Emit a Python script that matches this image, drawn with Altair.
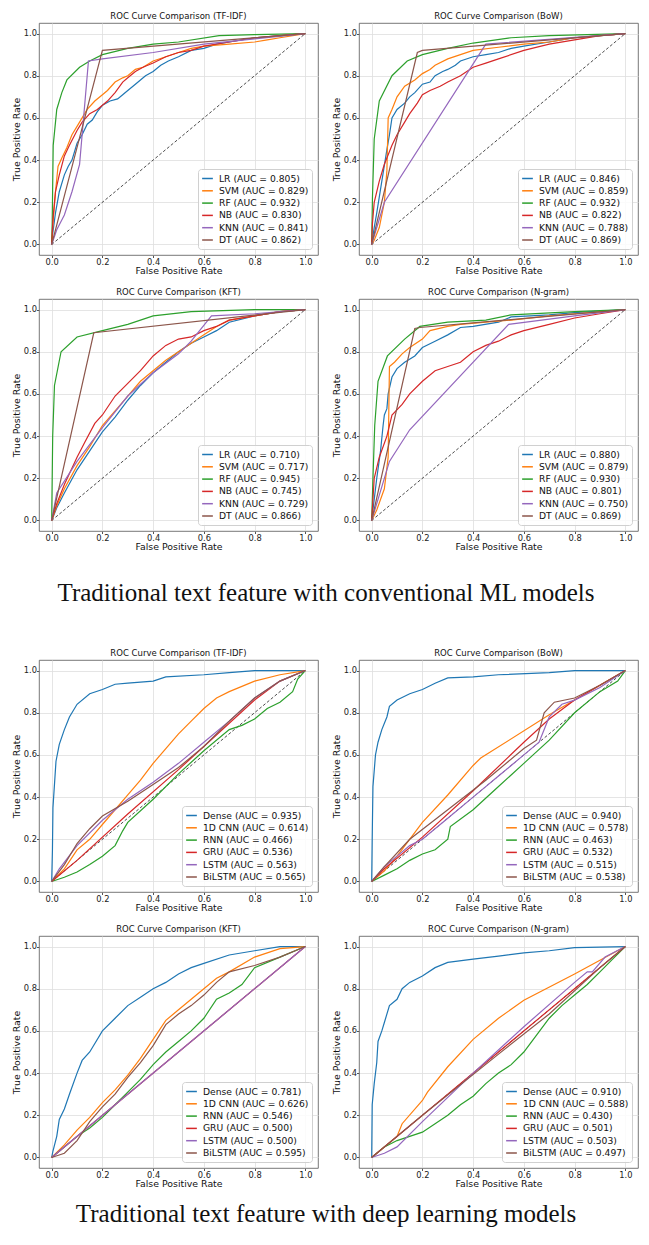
import altair as alt
import pandas as pd

FEATURES = ["TF-IDF", "BoW", "KFT", "N-gram"]
ML_MODELS = ["LR", "SVM", "RF", "NB", "KNN", "DT"]
DL_MODELS = ["Dense", "1D CNN", "RNN", "GRU", "LSTM", "BiLSTM"]
COLORS = ["#1f77b4", "#ff7f0e", "#2ca02c", "#d62728", "#9467bd", "#8c564b"]
TICKS = [0.0, 0.2, 0.4, 0.6, 0.8, 1.0]
CAPTION_ML = "Traditional text feature with conventional ML models"
CAPTION_DL = "Traditional text feature with deep learning models"

AUC_ML_TFIDF = [0.805, 0.829, 0.932, 0.830, 0.841, 0.862]
AUC_ML_BOW = [0.846, 0.859, 0.932, 0.822, 0.788, 0.869]
AUC_ML_KFT = [0.710, 0.717, 0.945, 0.745, 0.729, 0.866]
AUC_ML_NGRAM = [0.880, 0.879, 0.930, 0.801, 0.750, 0.869]
AUC_DL_TFIDF = [0.935, 0.614, 0.466, 0.536, 0.563, 0.565]
AUC_DL_BOW = [0.940, 0.578, 0.463, 0.532, 0.515, 0.538]
AUC_DL_KFT = [0.781, 0.626, 0.546, 0.500, 0.500, 0.595]
AUC_DL_NGRAM = [0.910, 0.588, 0.430, 0.501, 0.503, 0.497]

# ---- ROC curves (fpr, tpr) ----
ML_TFIDF_LR = [(0,0),(0.005,0.06),(0.015,0.15),(0.03,0.25),(0.05,0.33),(0.065,0.37),(0.08,0.4),(0.1,0.48),(0.12,0.52),(0.14,0.57),(0.16,0.59),(0.18,0.63),(0.2,0.66),(0.23,0.68),(0.26,0.69),(0.28,0.71),(0.3,0.73),(0.33,0.76),(0.35,0.78),(0.37,0.8),(0.4,0.82),(0.43,0.85),(0.46,0.87),(0.5,0.89),(0.55,0.92),(0.6,0.93),(0.65,0.95),(0.7,0.96),(0.8,0.98),(0.9,0.99),(1,1)]
ML_TFIDF_SVM = [(0,0),(0.005,0.1),(0.015,0.25),(0.025,0.37),(0.04,0.41),(0.06,0.46),(0.08,0.52),(0.1,0.56),(0.12,0.6),(0.14,0.64),(0.17,0.68),(0.2,0.71),(0.22,0.73),(0.25,0.77),(0.28,0.79),(0.3,0.8),(0.33,0.83),(0.36,0.84),(0.4,0.87),(0.45,0.89),(0.5,0.91),(0.55,0.93),(0.6,0.94),(0.7,0.95),(0.8,0.96),(0.85,0.97),(0.9,0.98),(1,1)]
ML_TFIDF_RF = [(0,0),(0.002,0.1),(0.006,0.47),(0.02,0.64),(0.04,0.72),(0.06,0.78),(0.11,0.84),(0.15,0.87),(0.2,0.9),(0.3,0.93),(0.4,0.95),(0.5,0.96),(0.66,0.99),(0.8,0.995),(1,1)]
ML_TFIDF_NB = [(0,0),(0.005,0.12),(0.015,0.25),(0.03,0.33),(0.05,0.42),(0.07,0.47),(0.1,0.54),(0.12,0.58),(0.15,0.62),(0.18,0.64),(0.2,0.66),(0.22,0.68),(0.25,0.72),(0.28,0.77),(0.3,0.79),(0.33,0.82),(0.36,0.84),(0.4,0.86),(0.45,0.89),(0.5,0.91),(0.55,0.92),(0.6,0.94),(0.7,0.96),(0.8,0.98),(0.9,0.99),(1,1)]
ML_TFIDF_KNN = [(0,0),(0.02,0.07),(0.05,0.14),(0.08,0.25),(0.11,0.38),(0.145,0.87),(0.2,0.88),(0.4,0.91),(0.6,0.95),(0.8,0.975),(1,1)]
ML_TFIDF_DT = [(0,0),(0.2,0.92),(1,1)]

ML_BOW_LR = [(0,0),(0.01,0.08),(0.02,0.15),(0.04,0.3),(0.06,0.45),(0.07,0.52),(0.08,0.6),(0.1,0.64),(0.13,0.67),(0.15,0.7),(0.17,0.72),(0.2,0.76),(0.23,0.77),(0.25,0.8),(0.28,0.82),(0.3,0.83),(0.33,0.85),(0.35,0.87),(0.4,0.89),(0.45,0.9),(0.5,0.91),(0.55,0.93),(0.6,0.94),(0.7,0.96),(0.8,0.98),(0.9,0.99),(1,1)]
ML_BOW_SVM = [(0,0),(0.01,0.02),(0.03,0.08),(0.05,0.2),(0.06,0.35),(0.065,0.6),(0.08,0.64),(0.1,0.7),(0.13,0.75),(0.17,0.78),(0.2,0.81),(0.23,0.83),(0.25,0.85),(0.3,0.88),(0.35,0.9),(0.4,0.92),(0.5,0.935),(0.6,0.95),(0.7,0.96),(0.8,0.98),(0.9,0.99),(1,1)]
ML_BOW_RF = [(0,0),(0.003,0.22),(0.01,0.5),(0.03,0.68),(0.08,0.8),(0.14,0.87),(0.2,0.9),(0.3,0.93),(0.4,0.955),(0.55,0.98),(0.7,0.99),(0.85,0.995),(1,1)]
ML_BOW_NB = [(0,0),(0.003,0.1),(0.01,0.2),(0.03,0.3),(0.05,0.38),(0.08,0.47),(0.1,0.52),(0.13,0.58),(0.15,0.62),(0.18,0.67),(0.2,0.71),(0.23,0.73),(0.27,0.75),(0.3,0.77),(0.35,0.8),(0.4,0.84),(0.45,0.86),(0.5,0.88),(0.6,0.92),(0.7,0.95),(0.8,0.97),(0.9,0.99),(1,1)]
ML_BOW_KNN = [(0,0),(0.05,0.2),(0.45,0.95),(1,1)]
ML_BOW_DT = [(0,0),(0.18,0.91),(0.2,0.92),(1,1)]

ML_KFT_LR = [(0,0),(0.02,0.06),(0.05,0.13),(0.1,0.24),(0.15,0.33),(0.2,0.42),(0.25,0.49),(0.3,0.57),(0.35,0.64),(0.4,0.7),(0.45,0.75),(0.5,0.8),(0.55,0.84),(0.6,0.87),(0.65,0.9),(0.7,0.94),(0.8,0.97),(0.9,0.99),(1,1)]
ML_KFT_SVM = [(0,0),(0.02,0.07),(0.05,0.15),(0.1,0.26),(0.15,0.35),(0.2,0.45),(0.25,0.52),(0.3,0.59),(0.35,0.66),(0.4,0.71),(0.45,0.76),(0.5,0.8),(0.55,0.84),(0.6,0.88),(0.65,0.92),(0.7,0.95),(0.8,0.97),(0.9,0.99),(1,1)]
ML_KFT_RF = [(0,0),(0.004,0.4),(0.011,0.64),(0.037,0.8),(0.1,0.87),(0.2,0.9),(0.3,0.93),(0.4,0.97),(0.55,0.99),(0.8,1.0),(1,1)]
ML_KFT_NB = [(0,0),(0.02,0.08),(0.05,0.17),(0.1,0.3),(0.13,0.37),(0.17,0.46),(0.2,0.5),(0.25,0.59),(0.3,0.65),(0.35,0.71),(0.4,0.78),(0.45,0.83),(0.5,0.86),(0.55,0.87),(0.6,0.9),(0.65,0.92),(0.7,0.95),(0.8,0.97),(0.9,0.99),(1,1)]
ML_KFT_KNN = [(0,0),(0.02,0.13),(0.1,0.28),(0.2,0.44),(0.3,0.59),(0.4,0.7),(0.5,0.79),(0.55,0.85),(0.63,0.97),(0.8,0.98),(1,1)]
ML_KFT_DT = [(0,0),(0.166,0.89),(1,1)]

ML_NGRAM_LR = [(0,0),(0.01,0.1),(0.02,0.2),(0.035,0.33),(0.045,0.45),(0.05,0.5),(0.06,0.53),(0.065,0.6),(0.08,0.68),(0.1,0.72),(0.13,0.75),(0.17,0.78),(0.2,0.82),(0.25,0.85),(0.3,0.88),(0.35,0.915),(0.4,0.92),(0.5,0.94),(0.55,0.965),(0.7,0.975),(0.8,0.985),(1,1)]
ML_NGRAM_SVM = [(0,0),(0.02,0.05),(0.05,0.15),(0.065,0.3),(0.07,0.73),(0.09,0.75),(0.12,0.79),(0.15,0.82),(0.2,0.86),(0.23,0.9),(0.3,0.92),(0.35,0.93),(0.45,0.94),(0.55,0.95),(0.7,0.97),(0.8,0.98),(1,1)]
ML_NGRAM_RF = [(0,0),(0.005,0.2),(0.012,0.45),(0.025,0.66),(0.062,0.78),(0.13,0.86),(0.19,0.92),(0.3,0.94),(0.45,0.95),(0.55,0.975),(0.8,0.99),(1,1)]
ML_NGRAM_NB = [(0,0),(0.005,0.1),(0.01,0.2),(0.03,0.3),(0.06,0.4),(0.08,0.5),(0.12,0.55),(0.15,0.6),(0.2,0.66),(0.25,0.71),(0.3,0.73),(0.35,0.75),(0.4,0.8),(0.45,0.83),(0.5,0.85),(0.55,0.88),(0.6,0.9),(0.7,0.93),(0.8,0.96),(0.9,0.98),(1,1)]
ML_NGRAM_KNN = [(0,0),(0.07,0.28),(0.15,0.43),(0.54,0.93),(0.8,0.97),(1,1)]
ML_NGRAM_DT = [(0,0),(0.17,0.91),(0.19,0.915),(1,1)]

DL_TFIDF_DENSE = [(0,0),(0.003,0.15),(0.005,0.35),(0.017,0.57),(0.03,0.65),(0.05,0.72),(0.07,0.78),(0.1,0.84),(0.15,0.89),(0.2,0.91),(0.25,0.935),(0.3,0.94),(0.4,0.95),(0.45,0.97),(0.6,0.98),(0.7,0.99),(0.8,1.0),(1,1)]
DL_TFIDF_CNN = [(0,0),(0.05,0.06),(0.1,0.15),(0.15,0.2),(0.2,0.27),(0.25,0.34),(0.3,0.41),(0.35,0.48),(0.4,0.56),(0.45,0.63),(0.5,0.7),(0.55,0.76),(0.6,0.82),(0.65,0.87),(0.7,0.9),(0.8,0.95),(0.9,0.98),(1,1)]
DL_TFIDF_RNN = [(0,0),(0.05,0.02),(0.1,0.045),(0.15,0.08),(0.2,0.12),(0.25,0.17),(0.28,0.24),(0.3,0.28),(0.4,0.39),(0.5,0.51),(0.6,0.62),(0.7,0.72),(0.75,0.74),(0.8,0.77),(0.85,0.82),(0.9,0.85),(0.95,0.9),(0.97,0.96),(1,1)]
DL_TFIDF_GRU = [(0,0),(0.02,0.02),(0.1,0.1),(0.3,0.32),(0.5,0.53),(0.7,0.75),(0.8,0.86),(0.9,0.95),(1,1)]
DL_TFIDF_LSTM = [(0,0),(0.03,0.06),(0.1,0.17),(0.2,0.29),(0.3,0.39),(0.4,0.47),(0.5,0.56),(0.6,0.66),(0.7,0.76),(0.8,0.87),(0.9,0.95),(1,1)]
DL_TFIDF_BILSTM = [(0,0),(0.05,0.08),(0.1,0.18),(0.15,0.25),(0.2,0.31),(0.3,0.38),(0.4,0.46),(0.5,0.54),(0.6,0.64),(0.7,0.76),(0.8,0.87),(0.9,0.95),(1,1)]

DL_BOW_DENSE = [(0,0),(0.002,0.2),(0.005,0.45),(0.015,0.6),(0.025,0.66),(0.04,0.72),(0.06,0.78),(0.07,0.83),(0.1,0.86),(0.15,0.89),(0.2,0.91),(0.25,0.94),(0.3,0.965),(0.4,0.97),(0.5,0.98),(0.7,0.99),(0.8,1.0),(1,1)]
DL_BOW_CNN = [(0,0),(0.05,0.05),(0.1,0.12),(0.2,0.28),(0.3,0.41),(0.4,0.55),(0.43,0.585),(0.7,0.79),(0.8,0.86),(0.9,0.93),(1,1)]
DL_BOW_RNN = [(0,0),(0.05,0.03),(0.1,0.06),(0.15,0.1),(0.2,0.13),(0.25,0.15),(0.3,0.2),(0.31,0.26),(0.4,0.34),(0.5,0.45),(0.6,0.56),(0.7,0.67),(0.8,0.8),(0.9,0.9),(0.97,0.95),(1,1)]
DL_BOW_GRU = [(0,0),(0.05,0.06),(0.2,0.21),(0.4,0.43),(0.6,0.66),(0.7,0.77),(0.8,0.86),(0.9,0.93),(1,1)]
DL_BOW_LSTM = [(0,0),(0.05,0.07),(0.1,0.12),(0.15,0.17),(0.2,0.2),(0.3,0.3),(0.4,0.4),(0.5,0.5),(0.6,0.6),(0.66,0.66),(0.7,0.78),(0.75,0.84),(0.8,0.86),(0.9,0.92),(1,1)]
DL_BOW_BILSTM = [(0,0),(0.05,0.07),(0.15,0.2),(0.3,0.34),(0.45,0.48),(0.6,0.63),(0.65,0.67),(0.68,0.8),(0.72,0.85),(0.8,0.87),(0.9,0.93),(1,1)]

DL_KFT_DENSE = [(0,0),(0.005,0.03),(0.02,0.1),(0.03,0.18),(0.05,0.23),(0.07,0.3),(0.1,0.4),(0.12,0.46),(0.15,0.5),(0.2,0.6),(0.25,0.66),(0.3,0.72),(0.35,0.76),(0.4,0.8),(0.45,0.83),(0.5,0.87),(0.55,0.9),(0.6,0.92),(0.7,0.96),(0.8,0.98),(0.9,1.0),(1,1)]
DL_KFT_CNN = [(0,0),(0.05,0.06),(0.1,0.13),(0.15,0.19),(0.2,0.26),(0.25,0.32),(0.3,0.39),(0.35,0.47),(0.4,0.56),(0.45,0.65),(0.5,0.7),(0.55,0.75),(0.6,0.8),(0.65,0.85),(0.7,0.88),(0.8,0.95),(0.9,0.99),(1,1)]
DL_KFT_RNN = [(0,0),(0.05,0.05),(0.1,0.1),(0.15,0.14),(0.2,0.19),(0.25,0.25),(0.3,0.31),(0.35,0.37),(0.4,0.44),(0.45,0.5),(0.5,0.55),(0.55,0.6),(0.6,0.66),(0.65,0.75),(0.7,0.78),(0.75,0.82),(0.8,0.9),(0.9,0.95),(1,1)]
DL_KFT_GRU = [(0,0),(1,1)]
DL_KFT_LSTM = [(0,0),(1,1)]
DL_KFT_BILSTM = [(0,0),(0.05,0.02),(0.1,0.08),(0.15,0.17),(0.2,0.24),(0.25,0.3),(0.3,0.38),(0.35,0.45),(0.4,0.53),(0.45,0.63),(0.5,0.68),(0.55,0.72),(0.6,0.77),(0.65,0.83),(0.7,0.88),(0.8,0.91),(0.9,0.95),(1,1)]

DL_NGRAM_DENSE = [(0,0),(0.002,0.25),(0.01,0.35),(0.02,0.45),(0.025,0.55),(0.04,0.6),(0.05,0.64),(0.07,0.72),(0.1,0.75),(0.12,0.8),(0.15,0.83),(0.2,0.86),(0.25,0.9),(0.3,0.925),(0.4,0.94),(0.5,0.955),(0.6,0.97),(0.7,0.98),(0.8,0.995),(1,1)]
DL_NGRAM_CNN = [(0,0),(0.05,0.05),(0.1,0.1),(0.12,0.16),(0.2,0.27),(0.22,0.31),(0.3,0.43),(0.4,0.56),(0.5,0.66),(0.6,0.745),(0.8,0.87),(1,1)]
DL_NGRAM_RNN = [(0,0),(0.05,0.05),(0.1,0.08),(0.15,0.1),(0.2,0.12),(0.25,0.16),(0.3,0.2),(0.35,0.25),(0.4,0.29),(0.45,0.35),(0.5,0.4),(0.55,0.44),(0.6,0.5),(0.65,0.58),(0.7,0.66),(0.75,0.72),(0.8,0.77),(0.85,0.82),(0.9,0.88),(0.95,0.94),(1,1)]
DL_NGRAM_GRU = [(0,0),(0.25,0.25),(0.5,0.5),(0.75,0.75),(1,1)]
DL_NGRAM_LSTM = [(0,0),(0.05,0.02),(0.1,0.05),(0.2,0.17),(0.4,0.4),(0.6,0.62),(0.8,0.83),(0.85,0.88),(0.87,0.88),(0.92,0.95),(1,1)]
DL_NGRAM_BILSTM = [(0,0),(0.2,0.2),(0.5,0.49),(0.7,0.68),(0.9,0.9),(1,1)]

DIAG = [(0, 0), (1, 1)]

PANELS_ML = [
    ("TF-IDF", AUC_ML_TFIDF, [ML_TFIDF_LR, ML_TFIDF_SVM, ML_TFIDF_RF, ML_TFIDF_NB, ML_TFIDF_KNN, ML_TFIDF_DT]),
    ("BoW", AUC_ML_BOW, [ML_BOW_LR, ML_BOW_SVM, ML_BOW_RF, ML_BOW_NB, ML_BOW_KNN, ML_BOW_DT]),
    ("KFT", AUC_ML_KFT, [ML_KFT_LR, ML_KFT_SVM, ML_KFT_RF, ML_KFT_NB, ML_KFT_KNN, ML_KFT_DT]),
    ("N-gram", AUC_ML_NGRAM, [ML_NGRAM_LR, ML_NGRAM_SVM, ML_NGRAM_RF, ML_NGRAM_NB, ML_NGRAM_KNN, ML_NGRAM_DT]),
]
PANELS_DL = [
    ("TF-IDF", AUC_DL_TFIDF, [DL_TFIDF_DENSE, DL_TFIDF_CNN, DL_TFIDF_RNN, DL_TFIDF_GRU, DL_TFIDF_LSTM, DL_TFIDF_BILSTM]),
    ("BoW", AUC_DL_BOW, [DL_BOW_DENSE, DL_BOW_CNN, DL_BOW_RNN, DL_BOW_GRU, DL_BOW_LSTM, DL_BOW_BILSTM]),
    ("KFT", AUC_DL_KFT, [DL_KFT_DENSE, DL_KFT_CNN, DL_KFT_RNN, DL_KFT_GRU, DL_KFT_LSTM, DL_KFT_BILSTM]),
    ("N-gram", AUC_DL_NGRAM, [DL_NGRAM_DENSE, DL_NGRAM_CNN, DL_NGRAM_RNN, DL_NGRAM_GRU, DL_NGRAM_LSTM, DL_NGRAM_BILSTM]),
]

PW, PH = 279, 232
FONT = "DejaVu Sans"


def panel(feature, models, aucs, curves):
    labels = [f"{m} (AUC = {a:.3f})" for m, a in zip(models, aucs)]
    rows = []
    for lab, curve in zip(labels, curves):
        for i, (fx, ty) in enumerate(curve):
            rows.append({"label": lab, "fpr": fx, "tpr": ty, "idx": i})
    df = pd.DataFrame(rows)
    xs = alt.Scale(domain=[-0.05, 1.05], nice=False, zero=False)
    ys = alt.Scale(domain=[-0.05, 1.05], nice=False, zero=False)
    xax = alt.Axis(values=TICKS, format=".1f", title="False Positive Rate", titlePadding=1)
    yax = alt.Axis(values=TICKS, format=".1f", title="True Positive Rate", titlePadding=1.5)
    diag = alt.Chart(pd.DataFrame(DIAG, columns=["fpr", "tpr"])).mark_line(
        color="black", strokeDash=[3, 2], strokeWidth=0.7
    ).encode(x=alt.X("fpr:Q", scale=xs, axis=xax), y=alt.Y("tpr:Q", scale=ys, axis=yax))
    lines = alt.Chart(df).mark_line(strokeWidth=1.2).encode(
        x=alt.X("fpr:Q", scale=xs, axis=xax),
        y=alt.Y("tpr:Q", scale=ys, axis=yax),
        color=alt.Color(
            "label:N",
            sort=labels,
            scale=alt.Scale(domain=labels, range=COLORS),
            legend=alt.Legend(
                title=None, orient="bottom-right", offset=6,
                fillColor="rgba(255,255,255,0.85)", strokeColor="#d0d0d0",
                cornerRadius=3, padding=3, symbolType="stroke",
                symbolStrokeWidth=1.5, symbolSize=115, labelFontSize=9.2,
                labelFont=FONT, labelColor="#111", rowPadding=0.3, labelOffset=5,
            ),
        ),
        order=alt.Order("idx:Q"),
    )
    return alt.layer(diag, lines).properties(
        width=PW, height=PH, title=f"ROC Curve Comparison ({feature})"
    )


def row(p_a, p_b):
    return alt.hconcat(
        panel(*p_a), panel(*p_b), spacing=12
    ).resolve_scale(color="independent").resolve_legend(color="independent")


def caption(text, h, y):
    return alt.Chart(pd.DataFrame({"t": [text]})).mark_text(
        font="Liberation Serif", fontSize=25, align="center", baseline="alphabetic", color="#111"
    ).encode(text="t:N", x=alt.value(287), y=alt.value(y)).properties(
        width=590, height=h, view=alt.ViewBackground(strokeOpacity=0)
    )


ml_p = [(f, ML_MODELS, a, c) for f, a, c in PANELS_ML]
dl_p = [(f, DL_MODELS, a, c) for f, a, c in PANELS_DL]

chart = alt.vconcat(
    row(ml_p[0], ml_p[1]),
    row(ml_p[2], ml_p[3]),
    caption(CAPTION_ML, 74, 38),
    row(dl_p[0], dl_p[1]),
    row(dl_p[2], dl_p[3]),
    caption(CAPTION_DL, 46, 22),
    spacing=11,
).resolve_scale(color="independent").resolve_legend(color="independent").properties(
    padding={"left": 11, "top": 11, "right": 0, "bottom": 0}
).configure_view(stroke="#555", strokeWidth=0.8).configure_axis(
    domain=False, grid=True, gridColor="#dedede", gridWidth=0.8,
    tickColor="#555", tickSize=2.5, labelFontSize=8.3, labelFont=FONT, labelColor="#222",
    labelPadding=0, titleFont=FONT, titleFontSize=9.4, titleFontWeight="normal",
    titleColor="#111",
).configure_title(font=FONT, fontSize=8.5, fontWeight="normal", offset=2.5, color="#111")

chart.save("out.html", embed_options={"renderer": "svg", "actions": False})
